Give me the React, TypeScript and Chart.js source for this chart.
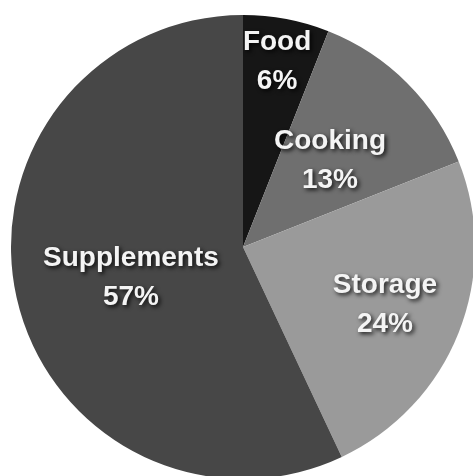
import React, { useEffect, useRef } from "react";
import { Chart, registerables } from "chart.js";

Chart.register(...registerables);

const categories = ["Food", "Cooking", "Storage", "Supplements"];
const values = [6, 13, 24, 57];
const percentLabels = ["6%", "13%", "24%", "57%"];
const colors = ["#161616", "#6f6f6f", "#9a9a9a", "#474747"];
// label block centre offsets from pie centre, as fraction of the radius
const labelOffsetX = [0.147, 0.375, 0.612, -0.483];
const labelOffsetY = [-0.8, -0.371, 0.25, 0.134];

const labelPlugin = {
  id: "sliceLabels",
  afterDatasetsDraw(chart: any) {
    const ctx = chart.ctx;
    const meta = chart.getDatasetMeta(0);
    ctx.save();
    ctx.font = "bold 28px 'Liberation Sans', Arial, sans-serif";
    ctx.textAlign = "center";
    ctx.textBaseline = "middle";
    meta.data.forEach((arc: any, i: number) => {
      const p = arc.getProps(["x", "y", "outerRadius"], true);
      const x = p.x + labelOffsetX[i] * p.outerRadius;
      const y = p.y + labelOffsetY[i] * p.outerRadius;
      ctx.shadowColor = "rgba(0,0,0,0.85)";
      ctx.shadowBlur = 4;
      ctx.shadowOffsetX = 2;
      ctx.shadowOffsetY = 2;
      ctx.fillStyle = "#f4f4f4";
      ctx.fillText(categories[i], x, y - 19.5);
      ctx.fillText(percentLabels[i], x, y + 19.5);
    });
    ctx.restore();
  },
};

export default function App() {
  const ref = useRef<HTMLCanvasElement>(null);
  useEffect(() => {
    if (!ref.current) return;
    const chart = new Chart(ref.current, {
      type: "pie",
      data: {
        labels: categories,
        datasets: [
          {
            data: values,
            backgroundColor: colors,
            borderWidth: 0,
          },
        ],
      },
      options: {
        animation: false,
        responsive: true,
        maintainAspectRatio: false,
        layout: { padding: 0 },
        plugins: {
          legend: { display: false },
          tooltip: { enabled: false },
        },
      },
      plugins: [labelPlugin],
    });
    return () => chart.destroy();
  }, []);
  return (
    <div
      style={{
        position: "fixed",
        left: 0,
        top: 0,
        width: 473,
        height: 476,
        overflow: "hidden",
        background: "#ffffff",
      }}
    >
      <div
        style={{
          position: "absolute",
          left: 11,
          top: 15,
          width: 464,
          height: 464,
          filter: "blur(0.6px)",
        }}
      >
        <canvas ref={ref} />
      </div>
    </div>
  );
}
